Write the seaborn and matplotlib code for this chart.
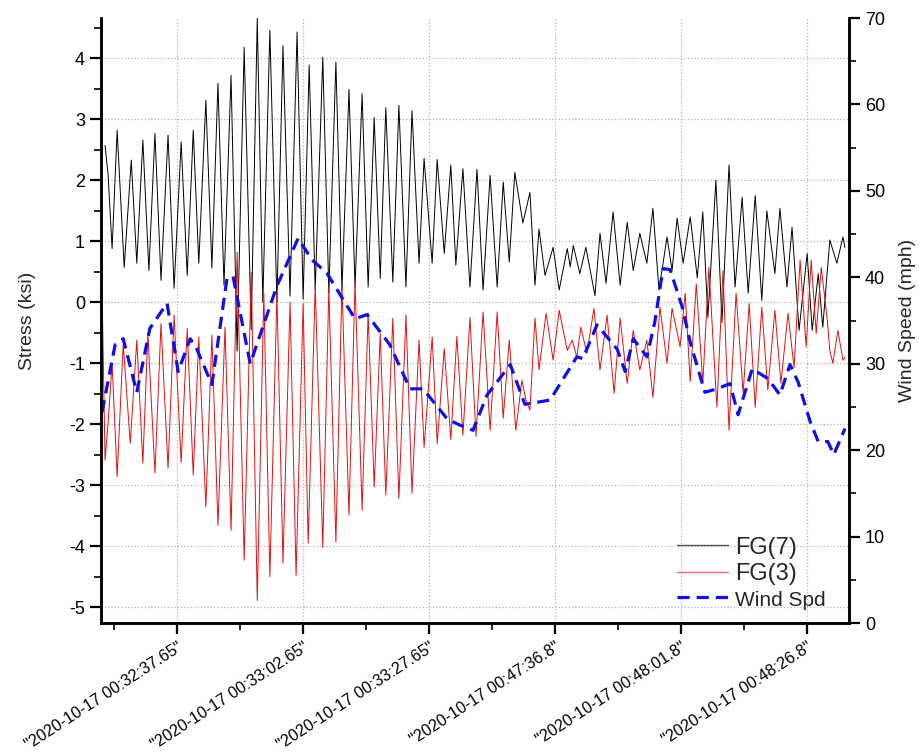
import numpy as np
import pandas as pd
import matplotlib
matplotlib.use("Agg")
import matplotlib.pyplot as plt
from matplotlib.ticker import MultipleLocator, FixedLocator
from matplotlib.lines import Line2D
import seaborn as sns

# time axis in seconds from the left edge of the plot
tick_pos = [15, 40, 65, 90, 115, 140]
tick_labels = ['"2020-10-17 00:32:37.65"', '"2020-10-17 00:33:02.65"',
               '"2020-10-17 00:33:27.65"', '"2020-10-17 00:47:36.8"',
               '"2020-10-17 00:48:01.8"', '"2020-10-17 00:48:26.8"']

# FG(7) stress, ksi (peaks/troughs)
fg7_t = [0.8, 1.4, 2.2, 3.2, 4.6, 6.0, 7.1, 8.3, 9.5, 10.7, 11.9, 13.3, 14.5, 15.9,
         17.1, 18.3, 19.4, 20.8, 22.0, 23.2, 24.4, 25.8, 27.0, 28.4, 29.8, 31.0,
         32.1, 33.5, 34.9, 36.1, 37.5, 38.9, 40.1, 41.3, 42.5, 44.0, 45.2, 46.6,
         47.8, 49.2, 50.4, 51.8, 53.0, 54.2, 55.4, 56.5, 57.9, 59.1, 60.5, 61.7,
         63.1, 64.1, 65.7, 66.7, 68.1, 69.4, 70.4, 71.8, 73.2, 74.6, 75.8, 77.2,
         78.6, 79.8, 81.0, 82.1, 83.7, 85.1, 86.1, 86.9, 88.1, 89.7, 90.9, 92.5,
         93.1, 93.7, 95.0, 96.2, 98.0, 99.0, 100.2, 101.6, 103.0, 104.4, 105.6,
         106.9, 108.3, 109.5, 110.7, 112.3, 113.3, 114.3, 115.5, 116.9, 118.3,
         119.4, 120.4, 122.0, 123.2, 124.6, 125.8, 127.2, 128.4, 129.8, 131.1,
         132.1, 133.7, 134.7, 136.1, 137.1, 138.5, 140.1, 141.1, 142.3, 143.2,
         144.6, 146.0, 147.2, 147.6]
fg7_v = [2.57, 2.1, 0.88, 2.82, 0.57, 2.33, 0.64, 2.66, 0.52, 2.77, 0.36, 2.74, 0.23,
         2.63, 0.44, 2.82, 0.64, 3.31, 0.56, 3.59, 0.28, 3.72, -0.8, 4.18, -0.45,
         4.66, 0.0, 4.46, 0.0, 4.21, 0.1, 4.43, 0.05, 3.89, 0.2, 4.02, 0.15, 3.94,
         0.2, 3.49, 0.25, 3.42, 0.25, 3.03, 0.39, 3.19, 0.33, 3.23, 0.25, 3.14,
         0.64, 2.36, 0.64, 2.34, 0.8, 2.25, 0.61, 2.19, 0.25, 2.18, 0.2, 2.08,
         0.25, 1.97, 0.66, 2.13, 1.3, 1.8, 0.28, 1.2, 0.44, 0.9, 0.2, 0.88,
         0.58, 0.93, 0.47, 0.9, 0.11, 1.13, 0.31, 1.48, 0.28, 1.31, 0.52,
         1.13, 0.64, 1.54, 0.2, 1.07, 0.52, 1.38, 0.64, 1.4, 0.4,
         1.48, -0.25, 2.0, -0.33, 2.25, 0.25, 1.72, 0.15, 1.75, 0.03,
         1.5, 0.47, 1.54, 0.25, 1.23, -0.46, 0.8, -0.46, 0.47, -0.41,
         1.02, 0.64, 1.07, 0.9]

# FG(3) stress, ksi
fg3_t = [0.2, 0.8, 1.4, 2.2, 3.2, 4.4, 5.8, 7.1, 8.3, 9.3, 10.7, 11.9, 13.3, 14.5,
         15.9, 17.1, 18.3, 19.4, 20.8, 22.0, 23.2, 24.6, 25.8, 27.0, 28.4, 29.8,
         31.0, 32.3, 33.5, 34.9, 36.1, 37.5, 38.7, 40.1, 41.1, 42.5, 44.0, 45.2,
         46.6, 47.8, 49.2, 50.4, 51.8, 53.0, 54.2, 55.4, 56.5, 57.9, 59.1, 60.5,
         61.7, 63.1, 64.1, 65.7, 66.7, 68.1, 69.4, 70.6, 71.8, 73.2, 74.4, 75.8,
         77.2, 78.6, 79.8, 81.0, 82.3, 83.5, 84.3, 85.1, 86.1, 86.9, 88.3, 89.7,
         90.9, 92.5, 93.5, 94.4, 95.2, 96.4, 97.8, 99.0, 100.4, 101.8, 103.0,
         104.4, 105.6, 106.9, 108.3, 109.5, 110.9, 112.3, 113.3, 114.9, 115.9,
         116.9, 118.1, 119.4, 120.6, 122.2, 123.4, 124.6, 126.0, 127.4, 128.6,
         129.8, 131.1, 132.3, 133.7, 134.9, 136.3, 137.5, 138.7, 139.9, 140.9,
         141.9, 142.9, 144.1, 144.6, 145.2, 146.2, 147.2, 147.6]
fg3_v = [0.25, -2.59, -1.98, -1.0, -2.86, -0.68, -2.31, -0.62, -2.64, -0.51, -2.8,
         -0.35, -2.72, -0.21, -2.63, -0.43, -2.83, -0.57, -3.36, -0.54, -3.66,
         -0.41, -3.74, 0.82, -4.23, 0.49, -4.89, 0.15, -4.5, 0.15, -4.28, 0.0,
         -4.48, -0.02, -3.95, 0.28, -4.02, 0.23, -3.93, 0.28, -3.49, 0.33, -3.41,
         -0.18, -3.03, -0.51, -3.16, -0.26, -3.22, -0.21, -3.13, -0.62, -2.38,
         -0.57, -2.32, -0.76, -2.25, -0.56, -2.18, -0.25, -2.2, -0.16, -2.1,
         -0.16, -1.9, -0.62, -2.1, -1.28, -1.6, -1.77, -0.26, -1.11, -0.18,
         -0.95, -0.13, -0.79, -0.62, -0.9, -0.41, -0.84, -0.1, -1.11, -0.21,
         -1.49, -0.26, -1.33, -0.46, -1.11, -0.62, -1.56, -0.08, -1.0, -0.1,
         -0.73, 0.15, -1.3, 0.3, -1.33, 0.57, -1.72, 0.52, -2.1, 0.15, -1.49,
         -0.02, -1.72, -0.08, -1.44, -0.13, -1.33, -0.18, -1.07, 0.69, -0.73,
         0.69, -0.51, 0.57, -0.3, -0.79, -1.0, -0.46, -0.95, -0.9]

# wind speed, mph
wind_t = [0.2, 2.8, 4.4, 7.1, 9.7, 13.1, 15.3, 17.7, 19.0, 22.0, 25.0, 26.2, 29.6,
          34.9, 39.1, 41.9, 44.8, 50.4, 52.8, 57.3, 61.3, 63.9, 68.7, 71.2, 73.8,
          76.6, 81.2, 84.1, 89.1, 94.4, 95.6, 98.4, 102.4, 104.0, 105.6, 108.3,
          109.9, 111.5, 112.9, 115.3, 116.9, 119.8, 122.2, 124.8, 126.4, 129.2,
          132.3, 134.7, 136.7, 138.3, 140.7, 142.3, 144.2, 145.4, 147.6]
wind_v = [24.4, 32.2, 32.9, 26.7, 34.1, 37.0, 29.1, 32.9, 31.7, 27.6, 39.9, 40.1,
          30.0, 39.0, 44.5, 42.0, 40.5, 35.2, 35.7, 32.2, 27.1, 27.1, 23.6, 22.9,
          22.3, 26.4, 29.9, 25.3, 25.8, 30.8, 30.6, 34.5, 31.7, 29.1, 32.9, 30.8,
          34.9, 41.0, 40.9, 36.6, 32.5, 26.7, 27.1, 27.7, 24.1, 29.4, 28.3, 26.4,
          29.9, 27.9, 23.3, 21.0, 21.0, 19.5, 22.5]

df7 = pd.DataFrame({"t": fg7_t, "v": fg7_v})
df3 = pd.DataFrame({"t": fg3_t, "v": fg3_v})
dfw = pd.DataFrame({"t": wind_t, "v": wind_v})

sns.set_style("white")
plt.rcParams['font.family'] = ['Liberation Sans', 'DejaVu Sans']
plt.rcParams['axes.unicode_minus'] = False

fig = plt.figure(figsize=(9.2, 7.53), dpi=100)
ax = fig.add_axes([0.1098, 0.1726, 0.813, 0.8034])
ax2 = ax.twinx()

sns.lineplot(data=df7, x="t", y="v", ax=ax, color="black", lw=0.7,
             estimator=None, sort=False)
sns.lineplot(data=df3, x="t", y="v", ax=ax, color="#e01010", lw=0.7,
             estimator=None, sort=False)
sns.lineplot(data=dfw, x="t", y="v", ax=ax2, color="#1010e0", lw=2.3,
             estimator=None, sort=False)
ax2.lines[0].set_dashes([3.8, 2.2])

ax.set_xlim(0, 148.4)
ax.set_ylim(-5.26, 4.66)
ax2.set_ylim(0, 70)

ax.xaxis.set_major_locator(FixedLocator(tick_pos))
ax.xaxis.set_minor_locator(MultipleLocator(12.5, offset=2.5))
ax.set_xticklabels(tick_labels, rotation=33, ha="right", va="top",
                   rotation_mode="anchor", fontsize=11.6)
ax.yaxis.set_major_locator(MultipleLocator(1))
ax.yaxis.set_minor_locator(MultipleLocator(0.5))
ax2.yaxis.set_major_locator(MultipleLocator(10))
ax2.yaxis.set_minor_locator(MultipleLocator(5))

ax.grid(False, which="both")
ax2.grid(False, which="both")
ax.xaxis.grid(True, which="major", linestyle=":", color="#b5b5b5", lw=0.9)
ax.yaxis.grid(True, which="major", linestyle=":", color="#b5b5b5", lw=0.9)

for a in (ax, ax2):
    a.spines["top"].set_visible(False)
    for s in ("left", "right", "bottom"):
        a.spines[s].set_linewidth(1.8)
        a.spines[s].set_color("black")
    a.tick_params(which="major", direction="out", length=8, width=1.6,
                  labelsize=13, colors="black")
    a.tick_params(which="minor", direction="out", length=5, width=1.4)
ax.tick_params(axis="x", which="both", bottom=True, labelsize=11.6, pad=4)
ax.tick_params(axis="y", which="both", left=True)
ax2.tick_params(axis="y", which="both", right=True)

ax.set_xlabel("")
ax.set_ylabel("Stress (ksi)", fontsize=14, labelpad=24)
ax2.set_ylabel("Wind Speed (mph)", fontsize=14, labelpad=10)

handles = [Line2D([], [], color="#555555", lw=1.0),
           Line2D([], [], color="#e07070", lw=1.0),
           Line2D([], [], color="#1010e0", lw=2.3, dashes=[3.8, 2.2])]
leg = ax2.legend(handles, ["FG(7)", "FG(3)", "Wind Spd"], loc="lower left",
                 frameon=False, fontsize=17, handlelength=2.15,
                 handletextpad=0.3, labelspacing=0.18, borderpad=0,
                 borderaxespad=0, bbox_to_anchor=(0.77, 0.022))
leg.get_texts()[2].set_fontsize(15)

fig.savefig("out.png", dpi=100)
